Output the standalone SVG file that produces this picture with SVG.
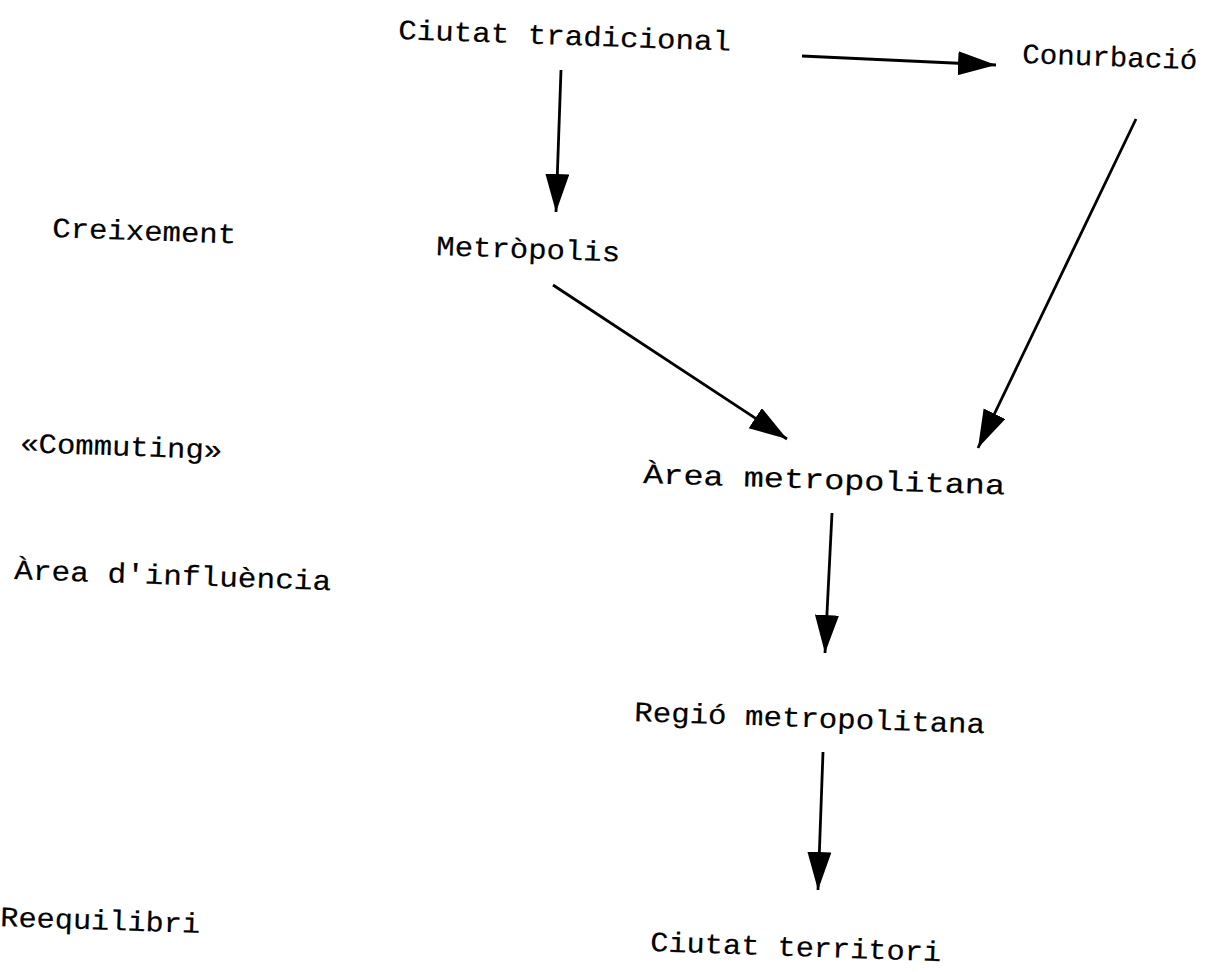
<svg xmlns="http://www.w3.org/2000/svg" width="1213" height="972" viewBox="0 0 1213 972">
<style>
  .t { font-family: "Liberation Mono", "Courier New", monospace; font-size: 28px; fill: #000; stroke: #000; stroke-width: 0.2; }
  .c { stroke: #000; stroke-width: 2.8; fill: none; marker-end: url(#ah); }
</style>
<defs>
  <marker id="ah" markerUnits="userSpaceOnUse" markerWidth="42" markerHeight="26" refX="38" refY="12" orient="auto">
    <path d="M0,0 L38,12 L0,24 z" fill="#000"/>
  </marker>
</defs>
<rect width="1213" height="972" fill="#fff"/>
<g id="connectors">
  <line class="c" x1="561" y1="70" x2="556" y2="212"/>
  <line class="c" x1="802" y1="56" x2="996" y2="65"/>
  <line class="c" x1="1136" y1="119" x2="978" y2="448"/>
  <line class="c" x1="553" y1="285" x2="787" y2="439"/>
  <line class="c" x1="832" y1="513" x2="825" y2="653"/>
  <line class="c" x1="823" y1="752" x2="818" y2="890"/>
</g>
<g id="n-ciutat-tradicional"><text class="t" x="398" y="39" textLength="333" lengthAdjust="spacingAndGlyphs" transform="rotate(2 398 39)">Ciutat tradicional</text></g>
<g id="n-conurbacio"><text class="t" x="1022" y="63" textLength="175" lengthAdjust="spacingAndGlyphs" transform="rotate(2 1022 63)">Conurbació</text></g>
<g id="n-creixement"><text class="t" x="52" y="237" textLength="184" lengthAdjust="spacingAndGlyphs" transform="rotate(2 52 237)">Creixement</text></g>
<g id="n-metropolis"><text class="t" x="436" y="255" textLength="184" lengthAdjust="spacingAndGlyphs" transform="rotate(2 436 255)">Metròpolis</text></g>
<g id="n-commuting"><text class="t" x="20" y="452" textLength="202" lengthAdjust="spacingAndGlyphs" transform="rotate(2 20 452)">«Commuting»</text></g>
<g id="n-area-influencia"><text class="t" x="14" y="579" textLength="317" lengthAdjust="spacingAndGlyphs" transform="rotate(2 14 579)">Àrea d'influència</text></g>
<g id="n-area-metropolitana"><text class="t" x="643" y="483" textLength="362" lengthAdjust="spacingAndGlyphs" transform="rotate(1.8 643 483)">Àrea metropolitana</text></g>
<g id="n-regio-metropolitana"><text class="t" x="634" y="721" textLength="351" lengthAdjust="spacingAndGlyphs" transform="rotate(2 634 721)">Regió metropolitana</text></g>
<g id="n-reequilibri"><text class="t" x="0" y="926" textLength="200" lengthAdjust="spacingAndGlyphs" transform="rotate(2 0 926)">Reequilibri</text></g>
<g id="n-ciutat-territori"><text class="t" x="650" y="951" textLength="291" lengthAdjust="spacingAndGlyphs" transform="rotate(2 650 951)">Ciutat territori</text></g>
</svg>
